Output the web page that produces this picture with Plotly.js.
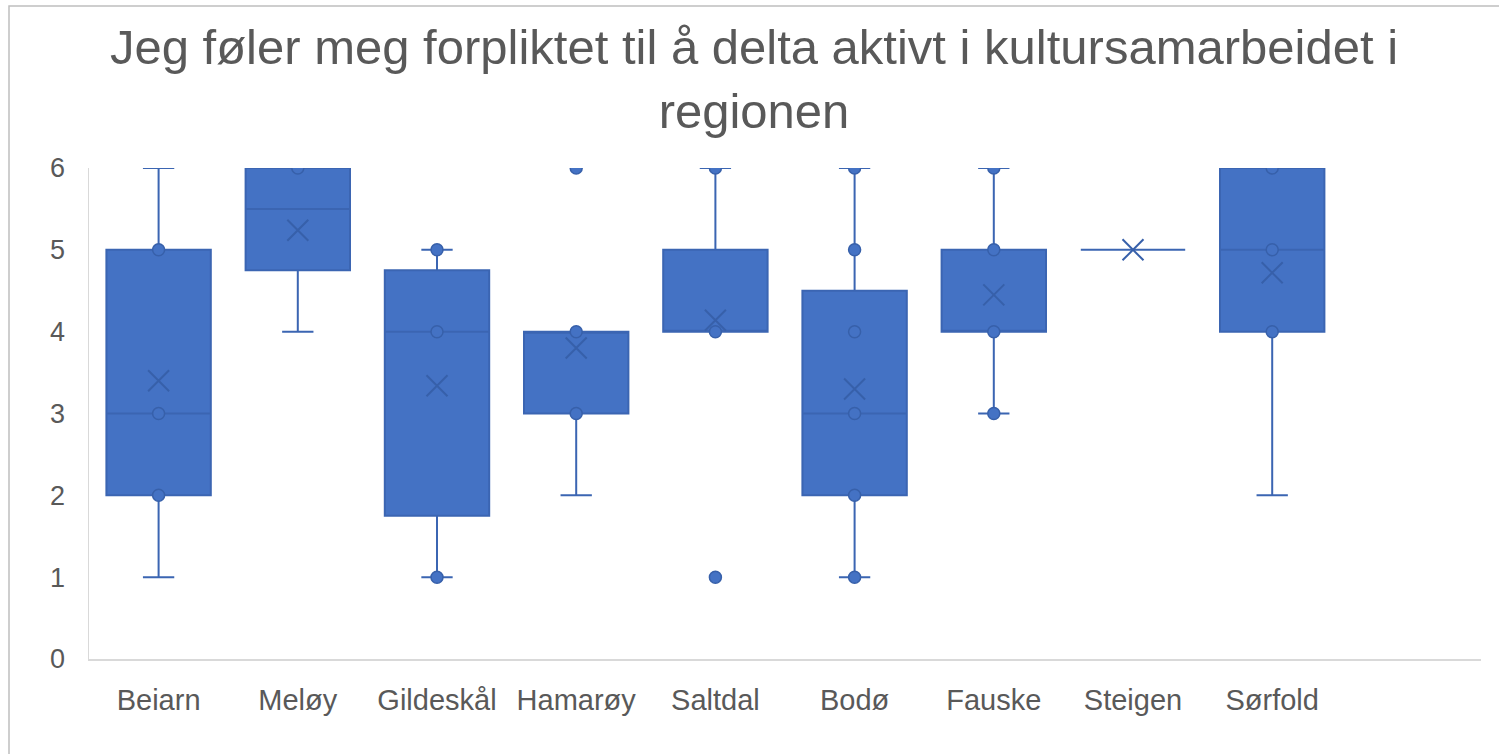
<!DOCTYPE html>
<html>
<head>
<meta charset="utf-8">
<script src="https://cdn.plot.ly/plotly-3.0.1.min.js"></script>
<style>
  html, body { margin: 0; padding: 0; background: #ffffff; }
  #chart { width: 1499px; height: 754px; }
</style>
</head>
<body>
<div id="chart"></div>
<script>
// ---- Data ----
const categories = ["Beiarn", "Meløy", "Gildeskål", "Hamarøy", "Saltdal", "Bodø", "Fauske", "Steigen", "Sørfold"];
const q1Values     = [2,    4.75, 1.75, 3,   4,    2,   4,    5, 4];
const medianValues = [3,    5.5,  4,    4,   4,    3,   4,    5, 5];
const q3Values     = [5,    6,    4.75, 4,   5,    4.5, 5,    5, 6];
const lowerWhisker = [1,    4,    1,    2,   4,    1,   3,    5, 2];
const upperWhisker = [6,    6,    5,    4,   6,    6,   6,    5, 6];
const meanValues   = [3.4,  5.24, 3.34, 3.8, 4.14, 3.3, 4.45, 5, 4.72];
// Data points drawn as dots (inner points and outliers) per category
const pointValues  = [
  [5, 3, 2],
  [6],
  [5, 4, 1],
  [6, 4, 3],
  [6, 4, 1],
  [6, 5, 4, 3, 2, 1],
  [6, 5, 4, 3],
  [],
  [6, 5, 4]
];
const yTicks = [0, 1, 2, 3, 4, 5, 6];
const chartTitle = "Jeg føler meg forpliktet til å delta aktivt i kultursamarbeidet i<br>regionen";

// ---- Styles ----
const boxFill = "#4472C4";
const boxLine = "#3B65B2";
const markLine = "#3760AA";
const textColor = "#595959";
const fontFamily = "Liberation Sans, Arial, sans-serif";

const pointX = [], pointY = [];
pointValues.forEach((vals, i) => vals.forEach(v => { pointX.push(categories[i]); pointY.push(v); }));

const traces = [
  {
    type: "box",
    x: categories,
    q1: q1Values,
    median: medianValues,
    q3: q3Values,
    lowerfence: lowerWhisker,
    upperfence: upperWhisker,
    boxpoints: false,
    width: 0.75,
    whiskerwidth: 0.3,
    fillcolor: boxFill,
    line: { color: boxLine, width: 2 },
    hoverinfo: "skip",
    showlegend: false
  },
  {
    type: "scatter",
    mode: "markers",
    x: pointX,
    y: pointY,
    marker: { symbol: "circle", size: 12, color: boxFill, line: { color: markLine, width: 1.5 } },
    hoverinfo: "skip",
    showlegend: false
  },
  {
    type: "scatter",
    mode: "markers",
    x: categories,
    y: meanValues,
    marker: { symbol: "x-thin", size: 21, color: markLine, line: { color: markLine, width: 2 } },
    hoverinfo: "skip",
    showlegend: false
  }
];

const layout = {
  width: 1499,
  height: 754,
  paper_bgcolor: "#ffffff",
  plot_bgcolor: "#ffffff",
  margin: { l: 89, r: 18, t: 168, b: 95 },
  font: { family: fontFamily, color: textColor },
  title: {
    text: chartTitle,
    font: { family: fontFamily, size: 49, color: textColor },
    x: 0.503,
    xanchor: "center",
    xref: "container",
    yref: "container",
    y: 0.915,
    yanchor: "top"
  },
  xaxis: {
    type: "category",
    categoryorder: "array",
    categoryarray: categories,
    range: [-0.5, 9.5],
    showline: true,
    linecolor: "#D9D9D9",
    linewidth: 1.5,
    showgrid: false,
    zeroline: false,
    ticks: "",
    ticklabelstandoff: 15,
    tickfont: { family: fontFamily, size: 29, color: textColor },
    fixedrange: true
  },
  yaxis: {
    range: [0, 6],
    tickvals: yTicks,
    ticktext: yTicks.map(String),
    showline: true,
    linecolor: "#D9D9D9",
    linewidth: 1.5,
    showgrid: false,
    zeroline: false,
    ticks: "",
    ticklabelstandoff: 17,
    tickfont: { family: fontFamily, size: 27, color: textColor },
    fixedrange: true
  },
  shapes: [
    {
      type: "rect",
      xref: "paper", yref: "paper",
      x0: (9 - 89) / 1392, x1: 1.05,
      y0: -0.3, y1: (659 - 6) / 491,
      line: { color: "#BFBFBF", width: 1.5 },
      fillcolor: "rgba(0,0,0,0)",
      layer: "below"
    }
  ]
};

Plotly.newPlot("chart", traces, layout, { displayModeBar: false, staticPlot: true });
</script>
</body>
</html>
